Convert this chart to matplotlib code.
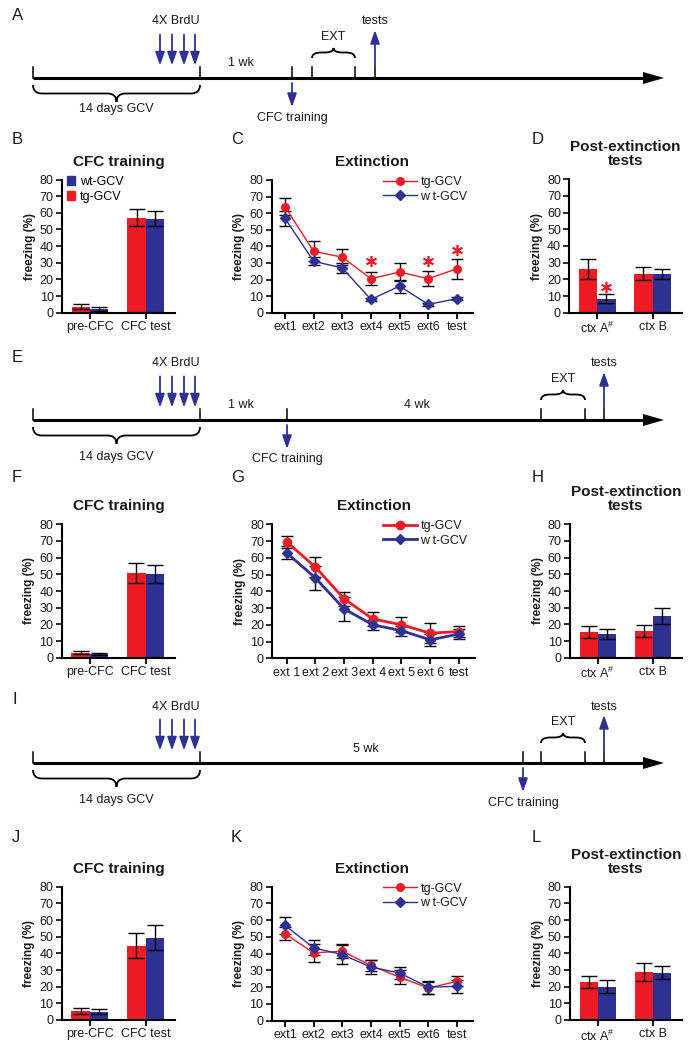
import matplotlib
matplotlib.use('Agg')
import matplotlib.pyplot as plt
import numpy as np
from matplotlib.path import Path
from matplotlib.patches import PathPatch, Patch

plt.rcParams['font.family'] = ['Liberation Sans', 'DejaVu Sans']
plt.rcParams['mathtext.fontset'] = 'custom'
plt.rcParams['mathtext.rm'] = 'Liberation Sans'
plt.rcParams['mathtext.default'] = 'regular'

RED = '#ed1c24'
BLUE = '#2e3192'
TXT = '#1a1a1a'

W, H = 689, 1048

# ---------------- data ----------------
cfc_groups = ['pre-CFC', 'CFC test']
post_groups = [r'ctx A$^{\#}$', 'ctx B']
ext_labels = ['ext1', 'ext2', 'ext3', 'ext4', 'ext5', 'ext6', 'test']
ext_labels_g = ['ext 1', 'ext 2', 'ext 3', 'ext 4', 'ext 5', 'ext 6', 'test']

# B / F / J : CFC training  (tg-GCV, wt-GCV)
b_tg, b_tg_err = [3.5, 57], [1.5, 5]
b_wt, b_wt_err = [2, 56.5], [1.2, 4.5]
f_tg, f_tg_err = [3, 51], [1, 6]
f_wt, f_wt_err = [2, 50], [0.6, 5.5]
j_tg, j_tg_err = [5.5, 44.5], [1.8, 7.5]
j_wt, j_wt_err = [5, 49.5], [1.5, 7.5]

# C / G / K : extinction
c_tg = [64, 37, 33.5, 20.5, 24.5, 20.5, 26.5]
c_tg_err = [5, 6, 5, 4, 5.5, 4.5, 6]
c_wt = [57, 31, 27, 8, 16, 5, 8.5]
c_wt_err = [4.5, 2.5, 3, 0.8, 4, 0.8, 1]
c_sig_x = [3, 5, 6]
c_sig_y = [31, 31, 38]

g_tg = [69.5, 54.5, 35.5, 23.5, 20, 15, 16]
g_tg_err = [3.5, 6, 4, 4, 4.5, 6, 3]
g_wt = [63, 48, 29.5, 20, 16.5, 11, 14.5]
g_wt_err = [4, 7, 7, 3, 3, 3.5, 3]

k_tg = [52, 40.5, 41.5, 33, 26, 19.5, 23.5]
k_tg_err = [4, 5.5, 4, 3.5, 4, 3.5, 3]
k_wt = [57, 43.5, 39.5, 32, 28.5, 20, 20.5]
k_wt_err = [5, 4.5, 5.5, 4, 3.5, 4, 4]

# D / H / L : post-extinction tests
d_tg, d_tg_err = [26.5, 23.5], [6, 4]
d_wt, d_wt_err = [8.5, 23], [2.5, 3]
d_sig_x, d_sig_y = [0.165], [15.5]
h_tg, h_tg_err = [15.5, 16], [3.5, 3.5]
h_wt, h_wt_err = [14.5, 25], [3, 5]
l_tg, l_tg_err = [23, 29], [3.5, 5.5]
l_wt, l_wt_err = [20, 28.5], [4, 4]

# timelines (pixel positions along the arrow)
brdu_x = [160, 172, 184, 195]
tl_rows = [
    dict(letter='A', y=78, cfc=292, ext=(312, 355), tests=375,
         wk=[('1 wk', 241)], gcv_dy=31, cfc_dy=40),
    dict(letter='E', y=420, cfc=287, ext=(541, 585), tests=604,
         wk=[('1 wk', 241), ('4 wk', 417)], gcv_dy=37, cfc_dy=39),
    dict(letter='I', y=763, cfc=523, ext=(541, 585), tests=604,
         wk=[('5 wk', 366)], gcv_dy=37, cfc_dy=40),
]

fig = plt.figure(figsize=(W / 100, H / 100), dpi=100)

tl = fig.add_axes([0, 0, 1, 1])
tl.set_xlim(0, W)
tl.set_ylim(H, 0)
tl.axis('off')


def brace(x0, x1, y_end, y_mid, y_tip):
    xc = (x0 + x1) / 2
    r = min(9, (x1 - x0) / 4)
    verts = [(x0, y_end), (x0, y_mid), (x0 + r, y_mid), (xc - r, y_mid),
             (xc, y_mid), (xc, y_tip), (xc, y_mid), (xc + r, y_mid),
             (x1 - r, y_mid), (x1, y_mid), (x1, y_end)]
    codes = [Path.MOVETO, Path.CURVE3, Path.CURVE3, Path.LINETO,
             Path.CURVE3, Path.CURVE3, Path.CURVE3, Path.CURVE3,
             Path.LINETO, Path.CURVE3, Path.CURVE3]
    tl.add_patch(PathPatch(Path(verts, codes), fill=False, lw=1.3, color='black'))


def blue_arrow(x, y_from, y_to):
    tl.annotate('', xy=(x, y_to), xytext=(x, y_from),
                arrowprops=dict(arrowstyle='-|>,head_length=0.8,head_width=0.28',
                                color=BLUE, lw=1.3, mutation_scale=10,
                                shrinkA=0, shrinkB=0))


def timeline(row):
    y = row['y']
    x0, x_end = 33, 664
    tl.plot([x0, x_end - 18], [y, y], color='black', lw=2.2, solid_capstyle='butt')
    tl.fill([x_end - 21, x_end, x_end - 21], [y - 6, y, y + 6], color='black', lw=0)
    for xt in [x0, 200, row['cfc'], row['ext'][0], row['ext'][1], row['tests']]:
        tl.plot([xt, xt], [y - 11.5, y], color='black', lw=1.1)
    tl.text(12, y - 63, row['letter'], fontsize=12, ha='left', va='center', color=TXT)
    tl.text(176, y - 56.5, '4X BrdU', fontsize=9, ha='center', va='center', color=TXT)
    for xb in brdu_x:
        blue_arrow(xb, y - 43.5, y - 12.5)
    tl.text(row['tests'], y - 56.5, 'tests', fontsize=9, ha='center', va='center', color=TXT)
    blue_arrow(row['tests'], y - 11, y - 48)
    e0, e1 = row['ext']
    tl.text((e0 + e1) / 2, y - 41, 'EXT', fontsize=9, ha='center', va='center', color=TXT)
    brace(e0, e1, y - 20, y - 25.5, y - 30)
    for lab, xw in row['wk']:
        tl.text(xw, y - 14.5, lab, fontsize=9, ha='center', va='center', color=TXT)
    brace(x0, 200, y + 7, y + 15.5, y + 24)
    tl.text(116, y + row['gcv_dy'], '14 days GCV', fontsize=9, ha='center',
            va='center', color=TXT)
    blue_arrow(row['cfc'], y + 5, y + 29)
    tl.text(row['cfc'], y + row['cfc_dy'], 'CFC training', fontsize=9,
            ha='center', va='center', color=TXT)


for row in tl_rows:
    timeline(row)

# panel letters of chart rows
for letter, xl, yl in [('B', 12, 139), ('C', 231, 139), ('D', 532, 139),
                       ('F', 12, 478), ('G', 231, 478), ('H', 532, 478),
                       ('J', 12, 838), ('K', 231, 838), ('L', 532, 838)]:
    tl.text(xl, yl, letter, fontsize=12, ha='left', va='center', color=TXT)


def add_ax(l, t, r, b):
    return fig.add_axes([l / W, 1 - b / H, (r - l) / W, (b - t) / H])


def style(ax, title):
    for s in ['top', 'right']:
        ax.spines[s].set_visible(False)
    for s in ['left', 'bottom']:
        ax.spines[s].set_linewidth(1.5)
    ax.set_ylim(0, 80)
    ax.set_yticks(np.arange(0, 81, 10))
    ax.tick_params(axis='y', length=4, width=1.3, pad=2, labelsize=9, colors=TXT)
    ax.tick_params(axis='x', length=4, width=1.5, pad=2, labelsize=9, colors=TXT)
    ax.set_ylabel('freezing (%)', fontsize=8.5, fontweight='bold', labelpad=3, color=TXT)
    ax.set_title(title, fontsize=11, fontweight='bold', pad=10, linespacing=1.0, color=TXT)
    ax.patch.set_alpha(0)


def bar_panel(box, tg, tg_err, wt, wt_err, labels, title):
    ax = add_ax(*box)
    x = np.arange(len(tg))
    w = 0.33
    ek = dict(elinewidth=1, capthick=1, ecolor='black')
    ax.bar(x - w / 2, tg, w, color=RED, yerr=tg_err, capsize=5.5, error_kw=ek)
    ax.bar(x + w / 2, wt, w, color=BLUE, yerr=wt_err, capsize=5.5, error_kw=ek)
    ax.set_xlim(-0.505, 1.525)
    ax.set_xticks(x)
    ax.set_xticklabels(labels)
    style(ax, title)
    return ax


def line_panel(box, tg, tg_err, wt, wt_err, labels, title, lw, ms, xlim):
    ax = add_ax(*box)
    x = np.arange(len(tg))
    ax.errorbar(x, tg, yerr=tg_err, fmt='none', ecolor='black', elinewidth=1,
                capsize=4.5, capthick=1, zorder=2)
    ax.errorbar(x, wt, yerr=wt_err, fmt='none', ecolor='black', elinewidth=1,
                capsize=4.5, capthick=1, zorder=2)
    ax.plot(x, tg, color=RED, lw=lw, marker='o', ms=ms, zorder=3, label='tg-GCV')
    ax.plot(x, wt, color=BLUE, lw=lw, marker='D', ms=ms - 0.5, zorder=3, label='w t-GCV')
    ax.set_xlim(*xlim)
    ax.set_xticks(x)
    ax.set_xticklabels(labels)
    style(ax, title)
    # legend placed at pixel position
    bx0 = ax.transAxes.inverted().transform(fig.transFigure.transform((383 / W, 0)))[0]
    leg = ax.legend(loc='upper left', bbox_to_anchor=(bx0, 1.03), frameon=False,
                    fontsize=9, handlelength=2.7, handletextpad=0.3,
                    labelspacing=0.2, borderaxespad=0, borderpad=0)
    for t in leg.get_texts():
        t.set_color(TXT)
    return ax


# row 1
axB = bar_panel((62, 179.5, 175, 312.7), b_tg, b_tg_err, b_wt, b_wt_err, cfc_groups, 'CFC training')
axB.legend(handles=[Patch(color=BLUE, label='wt-GCV'), Patch(color=RED, label='tg-GCV')],
           loc='upper left', bbox_to_anchor=(0.04, 1.03), frameon=False, fontsize=9,
           handlelength=0.7, handleheight=0.7, handletextpad=0.35, labelspacing=0.25,
           borderaxespad=0, borderpad=0)
axC = line_panel((271.7, 180, 473, 312.7), c_tg, c_tg_err, c_wt, c_wt_err, ext_labels,
                 'Extinction', 1, 5.5, (-0.46, 6.56))
axC.plot(c_sig_x, c_sig_y, ls='none', marker=(6, 2, 0), ms=8, mew=1.2, color=RED)
axD = bar_panel((569.3, 179.3, 681.7, 312.7), d_tg, d_tg_err, d_wt, d_wt_err, post_groups,
                'Post-extinction\ntests')
axD.plot(d_sig_x, d_sig_y, ls='none', marker=(6, 2, 0), ms=8, mew=1.2, color=RED)

# row 2
bar_panel((61.7, 524.3, 175, 657.7), f_tg, f_tg_err, f_wt, f_wt_err, cfc_groups, 'CFC training')
line_panel((272.3, 524.3, 475, 658.3), g_tg, g_tg_err, g_wt, g_wt_err, ext_labels_g,
           'Extinction', 2, 6, (-0.5, 6.56))
bar_panel((570, 524.3, 682, 657.7), h_tg, h_tg_err, h_wt, h_wt_err, post_groups,
          'Post-extinction\ntests')

# row 3
bar_panel((61.7, 886.7, 175, 1020), j_tg, j_tg_err, j_wt, j_wt_err, cfc_groups, 'CFC training')
line_panel((271.7, 886.7, 473, 1020.7), k_tg, k_tg_err, k_wt, k_wt_err, ext_labels,
           'Extinction', 1, 5.5, (-0.46, 6.56))
bar_panel((570, 886.7, 682, 1020), l_tg, l_tg_err, l_wt, l_wt_err, post_groups,
          'Post-extinction\ntests')

fig.savefig('out.png', dpi=100)
